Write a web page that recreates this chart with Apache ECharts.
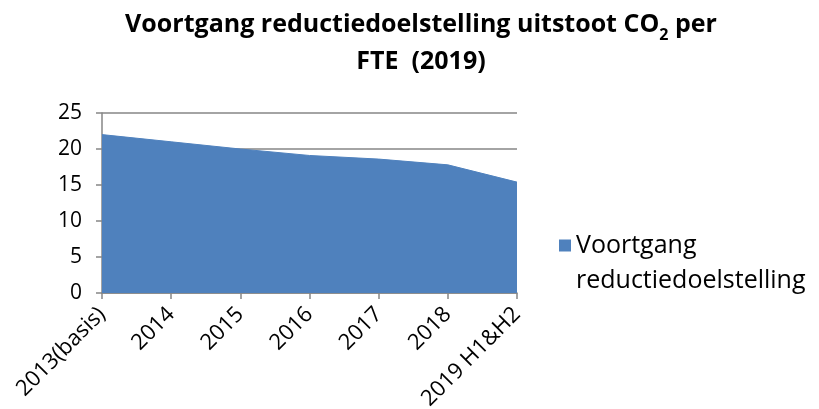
<!DOCTYPE html>
<html><head><meta charset="utf-8">
<script src="https://cdn.jsdelivr.net/npm/echarts@6/dist/echarts.min.js"></script>
<style>html,body{margin:0;padding:0;background:#fff}#c{width:819px;height:409px}</style>
</head><body><div id="c"></div>
<script>
const categories = ['2013(basis)', '2014', '2015', '2016', '2017', '2018', '2019 H1&H2'];
const seriesName = 'Voortgang reductiedoelstelling';
const legendLines = ['Voortgang', 'reductiedoelstelling'];
const values = [22.0, 21.0, 20.0, 19.1, 18.6, 17.8, 15.4];
const yTicks = { min: 0, max: 25, interval: 5 };

const chart = echarts.init(document.getElementById('c'));
const font = 'Open Sans, Liberation Sans, sans-serif';
chart.setOption({
  animation: false,
  title: {
    text: '{t|Voortgang reductiedoelstelling uitstoot CO}{s|2}{t| per}\n{t|FTE  (2019)}',
    left: 421, textAlign: 'center', top: 6, padding: 0,
    textStyle: {
      rich: {
        t: { fontFamily: font, fontWeight: 'bold', fontSize: 25, color: '#000', lineHeight: 37 },
        s: { fontFamily: font, fontWeight: 'bold', fontSize: 16, color: '#000', verticalAlign: 'bottom', padding: [14, 0, 0, 0], lineHeight: 37 }
      }
    }
  },
  grid: { left: 102, right: 302, top: 113, bottom: 116, containLabel: false, outerBoundsMode: 'none' },
  legend: {
    left: 554, top: 188,
    itemWidth: 12, itemHeight: 12, itemGap: 0,
    icon: 'rect',
    formatter: () => '\n' + legendLines.join('\n'),
    textStyle: { fontFamily: font, fontSize: 25, color: '#000', lineHeight: 35 },
    data: [seriesName]
  },
  xAxis: {
    type: 'category', data: categories, boundaryGap: false,
    axisLine: { lineStyle: { color: '#868686', width: 1.5 } },
    axisTick: { show: true, length: 6, lineStyle: { color: '#868686', width: 1.5 } },
    axisLabel: { rotate: 45, fontFamily: font, fontSize: 22, color: '#000', margin: 18 }
  },
  yAxis: {
    type: 'value', min: yTicks.min, max: yTicks.max, interval: yTicks.interval,
    axisLine: { show: true, lineStyle: { color: '#868686', width: 1.5 } },
    axisTick: { show: true, length: 6, lineStyle: { color: '#868686', width: 1.5 } },
    splitLine: { lineStyle: { color: '#868686', width: 1.5 } },
    axisLabel: { fontFamily: font, fontSize: 21, color: '#000', margin: 20 }
  },
  series: [{
    name: seriesName, type: 'line', data: values,
    symbol: 'none', z: 1,
    lineStyle: { color: '#4f81bd', width: 1 },
    itemStyle: { color: '#4f81bd' },
    areaStyle: { color: '#4f81bd', opacity: 1 }
  }]
});
</script></body></html>
